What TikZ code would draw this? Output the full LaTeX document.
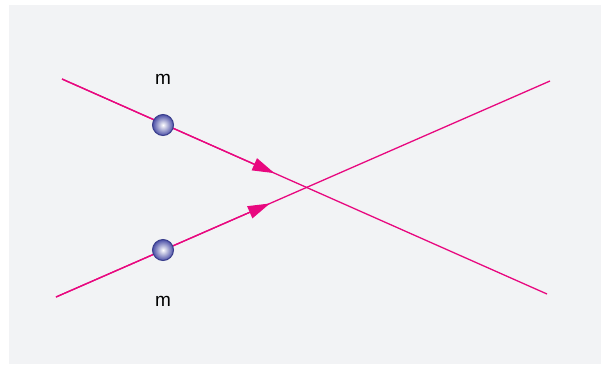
\documentclass[tikz,border=0pt]{standalone}
\usepackage{fontspec}
\setmainfont{Liberation Sans}
\usetikzlibrary{positioning,arrows.meta,calc}
\definecolor{bgray}{HTML}{F2F3F5}
\definecolor{beam}{HTML}{E8087F}
\definecolor{ballout}{HTML}{4A4EA6}
\definecolor{ballrim}{HTML}{3A3E8C}

\begin{document}
\begin{tikzpicture}[x=1pt, y=-1pt, line width=1.3pt,
		ray/.style = {draw=beam},
		tip/.style = {draw=beam, -{Triangle[length=22pt, width=13pt]}},
		main/.style = {circle, minimum size=21pt, inner sep=0pt, draw=ballrim, line width=1pt, inner color=white, outer color=ballout},
		lab/.style = {font=\fontsize{19}{22}\selectfont}]
		\useasboundingbox (0,0) rectangle (601,364);
		\fill[bgray] (9,5) rectangle (601,364);
		\coordinate (A1) at (62,79);
		\coordinate (E1) at (547,294);
		\coordinate (A2) at (56,297);
		\coordinate (E2) at (550,81);
		\coordinate (T1) at ($(A1)!0.438!(E1)$);
		\coordinate (T2) at ($(A2)!0.433!(E2)$);
		\draw[ray] (A1) -- (E1);
		\draw[ray] (A2) -- (E2);
		\draw[tip] (A1) -- (T1);
		\draw[tip] (A2) -- (T2);
		\node[main] (1) at (163,125) {};
		\node[main] (2) at (163,250) {};
		\node[lab] (m1) [above=26pt of 1] {m};
		\node[lab] (m2) [below=31pt of 2] {m};
	\end{tikzpicture}
\end{document}
